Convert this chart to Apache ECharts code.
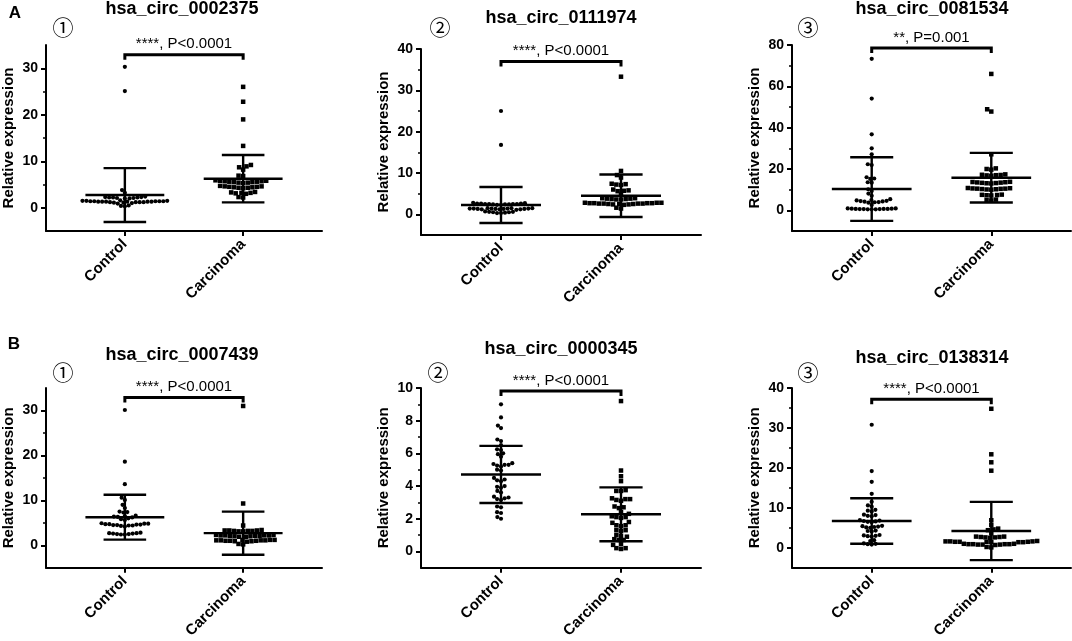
<!DOCTYPE html>
<html>
<head>
<meta charset="utf-8">
<script src="https://cdn.jsdelivr.net/npm/echarts@6/dist/echarts.min.js"></script>
<style>
html,body{margin:0;padding:0;background:#fff;}
#chart{width:1072px;height:641px;}
</style>
</head>
<body>
<div id="chart"></div>
<script>
// ---------------- DATA ----------------
const categories = ['Control', 'Carcinoma'];
const groupX = [1, 2.5];
const panelTitles = ['hsa_circ_0002375', 'hsa_circ_0111974', 'hsa_circ_0081534',
                     'hsa_circ_0007439', 'hsa_circ_0000345', 'hsa_circ_0138314'];
const panelMarks = ['①', '②', '③', '①', '②', '③'];
const rowLetters = ['A', 'B'];
const pLabels = ['****, P<0.0001', '****, P<0.0001', '**, P=0.001',
                 '****, P<0.0001', '****, P<0.0001', '****, P<0.0001'];
const yMins = [-5, -5, -10, -5, -1, -5];
const yMaxs = [35, 40, 80, 35, 10, 40];
const yTickLabels = [[0, 10, 20, 30], [0, 10, 20, 30, 40], [0, 20, 40, 60, 80],
                     [0, 10, 20, 30], [0, 2, 4, 6, 8, 10], [0, 10, 20, 30, 40]];
const yMinorTicks = [[5, 15, 25], [5, 15, 25, 35], [10, 30, 50, 70],
                     [5, 15, 25], [1, 3, 5, 7, 9], [5, 15, 25, 35]];
const bracketY = [32.9, 37.0, 78.5, 32.9, 9.82, 37.2];
const meanCtrl = [2.73, 2.27, 10.3, 6.25, 4.71, 6.7];
const meanCarc = [6.25, 4.5, 15.8, 2.7, 2.27, 4.2];
const sdCtrl = [5.8, 4.35, 15.4, 5.0, 1.75, 5.7];
const sdCarc = [5.1, 5.15, 12.0, 4.8, 1.65, 7.3];

const ctrlA1 = [30.3, 25.1, 3.8, 3.2, 2.4, 2.3, 2.3, 2.2, 2.2, 2.2, 2.1, 2.1, 2.0, 2.0, 1.6, 1.5, 1.5, 1.5, 1.4, 1.4,
                1.4, 1.4, 1.4, 1.3, 1.3, 1.3, 1.3, 1.3, 1.3, 1.2, 1.2, 1.2, 1.2, 1.1, 1.1, 1.0, 0.9, 0.5, 0.4, 0.3];
const carcA1 = [26.0, 22.8, 19.0, 13.3, 9.2, 8.9, 8.7, 8.2, 6.9, 6.8, 5.9, 5.8, 5.8, 5.7, 5.7, 5.6, 5.6, 5.5, 5.5, 5.4,
                5.4, 5.3, 4.7, 4.6, 4.6, 4.5, 4.5, 4.4, 4.4, 4.3, 4.3, 4.2, 3.4, 3.3, 3.2, 3.2, 3.1, 3.0, 2.3, 2.2];
const ctrlA2 = [25.0, 16.8, 2.8, 2.7, 2.6, 2.6, 2.6, 2.5, 2.5, 2.5, 2.5, 2.4, 2.4, 2.4, 2.3, 2.3, 1.5, 1.5, 1.5, 1.4,
                1.4, 1.4, 1.4, 1.4, 1.3, 1.3, 1.3, 1.3, 1.2, 1.2, 1.2, 1.1, 0.7, 0.6, 0.6, 0.5, 0.5, 0.4, 0.3, 0.3];
const carcA2 = [33.3, 10.5, 9.5, 8.9, 7.4, 7.3, 7.2, 7.1, 6.0, 5.8, 5.7, 5.6, 4.8, 3.9, 3.9, 3.8, 3.8, 3.7, 3.7, 3.6,
                3.6, 2.8, 2.8, 2.8, 2.7, 2.7, 2.7, 2.7, 2.6, 2.6, 2.6, 2.6, 2.5, 2.5, 2.5, 2.4, 2.4, 2.3, 1.6, 1.4];
const ctrlA3 = [73.3, 54.1, 36.8, 30.0, 27.1, 22.3, 21.9, 16.0, 15.4, 15.2, 13.6, 13.4, 10.2, 9.3, 8.1, 7.0, 5.4, 5.0, 4.8, 4.6,
                4.5, 4.3, 4.2, 4.0, 3.9, 3.7, 2.6, 0.9, 0.9, 0.8, 0.8, 0.7, 0.7, 0.7, 0.6, 0.6, 0.6, 0.5, 0.5, 0.5];
const carcA3 = [66.0, 48.9, 47.8, 27.1, 20.3, 20.0, 19.7, 17.4, 17.2, 17.1, 17.0, 16.9, 16.7, 13.8, 13.7, 13.6, 13.5, 13.4, 13.3, 13.2,
                13.1, 13.0, 10.8, 10.7, 10.6, 10.5, 10.5, 10.4, 10.3, 10.2, 10.1, 10.0, 7.6, 7.5, 7.4, 7.3, 7.2, 5.2, 5.0, 4.8];
const ctrlB1 = [30.1, 18.6, 13.6, 10.6, 10.1, 9.0, 8.3, 7.5, 7.4, 7.3, 6.6, 6.5, 6.4, 6.3, 6.2, 6.0, 5.8, 5.6, 4.9, 4.8,
                4.8, 4.7, 4.7, 4.6, 4.6, 4.5, 4.5, 4.4, 4.4, 4.3, 4.2, 2.8, 2.7, 2.7, 2.6, 2.6, 2.5, 2.5, 2.4, 2.4];
const carcB1 = [31.0, 9.3, 4.4, 3.4, 3.3, 3.3, 3.3, 3.2, 3.2, 3.2, 3.1, 3.1, 2.3, 2.3, 2.2, 2.2, 2.2, 2.2, 2.1, 2.1,
                2.1, 2.0, 2.0, 1.9, 1.9, 1.2, 1.2, 1.2, 1.1, 1.1, 1.1, 1.1, 1.0, 1.0, 1.0, 0.9, 0.9, 0.8, 0.3, 0.2];
const ctrlB2 = [9.0, 8.2, 7.7, 7.55, 6.85, 6.75, 6.5, 6.25, 6.2, 6.0, 5.95, 5.8, 5.4, 5.35, 5.3, 5.3, 5.25, 5.2, 5.0, 4.95,
                4.5, 4.4, 4.35, 4.3, 4.0, 3.95, 3.9, 3.7, 3.6, 3.35, 3.3, 3.25, 3.2, 3.15, 2.75, 2.7, 2.4, 2.35, 2.1, 2.0];
const carcB2 = [9.2, 4.95, 4.6, 4.3, 3.75, 3.7, 3.7, 3.25, 3.2, 3.2, 3.15, 3.1, 2.75, 2.7, 2.65, 2.4, 2.3, 2.15, 2.1, 2.1,
                2.05, 1.8, 1.75, 1.6, 1.6, 1.55, 1.3, 1.3, 1.25, 1.0, 0.95, 0.9, 0.75, 0.7, 0.7, 0.45, 0.4, 0.2, 0.2, 0.15];
const ctrlB3 = [30.8, 19.2, 16.5, 13.5, 11.5, 10.6, 10.3, 9.5, 9.3, 9.1, 8.3, 8.2, 8.0, 7.9, 6.9, 6.8, 6.7, 6.6, 6.5, 6.4,
                5.5, 5.4, 5.3, 5.2, 5.1, 5.0, 4.3, 4.2, 4.1, 3.2, 3.1, 3.0, 2.9, 2.8, 1.9, 1.7, 1.1, 1.0, 0.9, 0.8];
const carcB3 = [34.8, 23.4, 21.4, 19.3, 6.9, 5.7, 4.8, 4.6, 4.4, 3.6, 2.8, 2.8, 2.7, 2.7, 2.6, 2.6, 2.5, 1.7, 1.6, 1.6,
                1.6, 1.5, 1.5, 1.5, 1.5, 1.4, 1.4, 1.4, 1.0, 1.0, 0.9, 0.9, 0.9, 0.9, 0.8, 0.8, 0.8, 0.7, 0.2, 0.1];

const ctrlData = [ctrlA1, ctrlA2, ctrlA3, ctrlB1, ctrlB2, ctrlB3];
const carcData = [carcA1, carcA2, carcA3, carcB1, carcB2, carcB3];

// ---------------- LAYOUT / STYLE ----------------
const FONT = '"Liberation Sans", Arial, Helvetica, sans-serif';
const INK = '#000';
const X_MAX = 3.5;
const grids = [
  {left: 42, top: 45, width: 280, height: 186},
  {left: 421, top: 49, width: 280, height: 186},
  {left: 792, top: 45, width: 279, height: 186},
  {left: 42, top: 388, width: 280, height: 186},
  {left: 421, top: 388, width: 280, height: 186},
  {left: 792, top: 388, width: 279, height: 186}
];
const titlePos = [[182, 9], [561, 18], [932, 9], [182, 355], [561, 349], [932, 358]];
const markPos = [[63, 27], [440, 27], [808, 27], [63, 372], [438, 372], [808, 372]];
const letterPos = [[15, 13], [14, 344]];

// beeswarm layout computed from the values, in pixel space, returned in data units
function swarm(values, cx, xPPU, yPPU, d) {
  const order = values.map((v, i) => i).sort((a, b) => values[a] - values[b]);
  const placed = [];
  const out = new Array(values.length);
  for (const i of order) {
    const y = values[i] * yPPU;
    const iv = [];
    for (const p of placed) {
      const dy = Math.abs(p.y - y);
      if (dy < d) {
        const w = Math.sqrt(d * d - dy * dy);
        iv.push([p.x - w, p.x + w]);
      }
    }
    const cands = [0];
    iv.forEach(([l, r]) => cands.push(l, r));
    cands.sort((a, b) => (Math.abs(a) - Math.abs(b)) || (a - b));
    let best = 0;
    for (const c of cands) {
      if (iv.every(([l, r]) => c <= l + 1e-6 || c >= r - 1e-6)) { best = c; break; }
    }
    placed.push({x: best, y: y});
    out[i] = [cx + best / xPPU, values[i]];
  }
  return out;
}

function renderErr(params, api) {
  const x = api.value(0), m = api.value(1), s = api.value(2);
  const c = api.coord([x, m]);
  const l = api.coord([x - 0.5, m]);
  const r = api.coord([x + 0.5, m]);
  const t = api.coord([x, m + s]);
  const b = api.coord([x, m - s]);
  const cl = api.coord([x - 0.27, m]);
  const cr = api.coord([x + 0.27, m]);
  const st = {stroke: INK, lineWidth: 2.4, fill: null};
  return {type: 'group', children: [
    {type: 'line', shape: {x1: l[0], y1: c[1], x2: r[0], y2: c[1]}, style: st},
    {type: 'line', shape: {x1: c[0], y1: t[1], x2: c[0], y2: b[1]}, style: st},
    {type: 'line', shape: {x1: cl[0], y1: t[1], x2: cr[0], y2: t[1]}, style: st},
    {type: 'line', shape: {x1: cl[0], y1: b[1], x2: cr[0], y2: b[1]}, style: st}
  ]};
}

// y axis line drawn from the axis extent through the library's coordinate system
function renderYLine(params, api) {
  const a = api.coord([api.value(0), api.value(1)]);
  const b = api.coord([api.value(0), api.value(2)]);
  return {type: 'line', shape: {x1: a[0], y1: a[1], x2: b[0], y2: b[1]},
    style: {stroke: INK, lineWidth: 2, fill: null}};
}

function makeBracket(label) {
  return function (params, api) {
    const a = api.coord([api.value(0), api.value(2)]);
    const b = api.coord([api.value(1), api.value(2)]);
    return {type: 'group', children: [
      {type: 'polyline', shape: {points: [[a[0], a[1] + 5], [a[0], a[1]], [b[0], b[1]], [b[0], b[1] + 5]]},
       style: {stroke: INK, lineWidth: 3, fill: null}},
      {type: 'text', style: {text: label, x: (a[0] + b[0]) / 2, y: a[1] - 3,
        textAlign: 'center', textVerticalAlign: 'bottom', font: '15px ' + FONT, fill: INK}}
    ]};
  };
}

const axisLineStyle = {color: INK, width: 2, opacity: 1};
const xAxes = [], yAxes = [], series = [], graphics = [];
grids.forEach((g, i) => {
  const xPPU = g.width / X_MAX;
  const yPPU = g.height / (yMaxs[i] - yMins[i]);
  xAxes.push({
    gridIndex: i, type: 'value', min: 0, max: X_MAX,
    axisLine: {show: true, onZero: false, lineStyle: axisLineStyle},
    axisTick: {show: true, customValues: groupX, length: 5, lineStyle: axisLineStyle},
    axisLabel: {customValues: groupX, formatter: v => (v < 1.75 ? categories[0] : categories[1]),
      rotate: 45, fontSize: 15, fontWeight: 'bold', color: INK, fontFamily: FONT, margin: 11},
    splitLine: {show: false}
  });
  yAxes.push({
    gridIndex: i, type: 'value', min: yMins[i], max: yMaxs[i], position: 'left',
    axisLine: {show: true, onZero: false, lineStyle: axisLineStyle},
    axisTick: {show: true, customValues: yTickLabels[i], length: 5, lineStyle: axisLineStyle},
    axisLabel: {customValues: yTickLabels[i], fontSize: 14, fontWeight: 'bold', color: INK, fontFamily: FONT, margin: 8},
    splitLine: {show: false},
    name: 'Relative expression', nameLocation: 'middle', nameGap: 30,
    nameTextStyle: {fontSize: 15, fontWeight: 'bold', color: INK, fontFamily: FONT}
  });
  yAxes.push({
    gridIndex: i, type: 'value', min: yMins[i], max: yMaxs[i], position: 'left', offset: 0,
    axisLine: {show: false, onZero: false},
    axisTick: {show: true, customValues: yMinorTicks[i], length: 3, lineStyle: {color: INK, width: 1.5}},
    axisLabel: {show: false}, splitLine: {show: false}
  });
  series.push({
    type: 'custom', xAxisIndex: i, yAxisIndex: 2 * i, renderItem: renderYLine, z: 5, silent: true,
    encode: {x: 0, y: [1, 2]},
    data: [[0, yMins[i], yMaxs[i]]]
  });
  series.push({
    type: 'scatter', xAxisIndex: i, yAxisIndex: 2 * i, symbol: 'circle', symbolSize: 4.2,
    itemStyle: {color: INK, opacity: 1}, data: swarm(ctrlData[i], groupX[0], xPPU, yPPU, 4.0), z: 3
  });
  series.push({
    type: 'scatter', xAxisIndex: i, yAxisIndex: 2 * i, symbol: 'rect', symbolSize: 4.5,
    itemStyle: {color: INK, opacity: 1}, data: swarm(carcData[i], groupX[1], xPPU, yPPU, 4.7), z: 3
  });
  series.push({
    type: 'custom', xAxisIndex: i, yAxisIndex: 2 * i, renderItem: renderErr, z: 4,
    encode: {x: 0, y: 1},
    data: [[groupX[0], meanCtrl[i], sdCtrl[i]], [groupX[1], meanCarc[i], sdCarc[i]]]
  });
  series.push({
    type: 'custom', xAxisIndex: i, yAxisIndex: 2 * i, renderItem: makeBracket(pLabels[i]), z: 4,
    encode: {x: [0, 1], y: 2},
    data: [[groupX[0], groupX[1], bracketY[i]]]
  });
  graphics.push({type: 'text', x: titlePos[i][0], y: titlePos[i][1],
    style: {text: panelTitles[i], font: 'bold 18px ' + FONT, fill: INK, textAlign: 'center', textVerticalAlign: 'middle'}});
  graphics.push({type: 'text', x: markPos[i][0], y: markPos[i][1],
    style: {text: panelMarks[i], font: '21px "Noto Sans CJK SC", "DejaVu Sans", sans-serif', fill: INK, textAlign: 'center', textVerticalAlign: 'middle'}});
});
rowLetters.forEach((t, k) => {
  graphics.push({type: 'text', x: letterPos[k][0], y: letterPos[k][1],
    style: {text: t, font: 'bold 17px ' + FONT, fill: INK, textAlign: 'center', textVerticalAlign: 'middle'}});
});

const chart = echarts.init(document.getElementById('chart'), null, {renderer: 'canvas'});
chart.setOption({
  animation: false,
  backgroundColor: '#fff',
  textStyle: {fontFamily: FONT},
  grid: grids,
  xAxis: xAxes,
  yAxis: yAxes,
  series: series,
  graphic: graphics
});
</script>
</body>
</html>
